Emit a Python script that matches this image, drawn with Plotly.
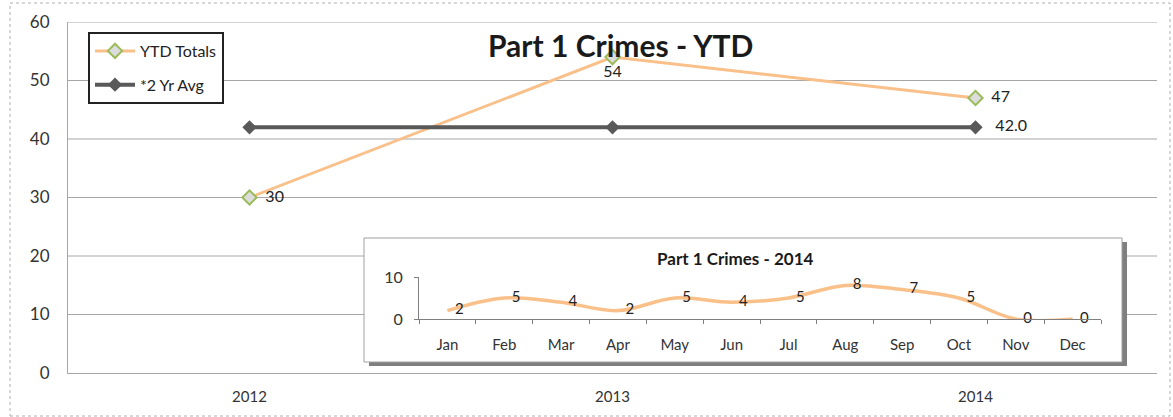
import plotly.graph_objects as go

# ---- data ----
years = ["2012", "2013", "2014"]
ytd_totals = [30, 54, 47]
two_yr_avg = [42.0, 42.0, 42.0]
avg_labels = ["", "", "42.0"]
months = ["Jan", "Feb", "Mar", "Apr", "May", "Jun", "Jul", "Aug", "Sep", "Oct", "Nov", "Dec"]
monthly_2014 = [2, 5, 4, 2, 5, 4, 5, 8, 7, 5, 0, 0]
main_yticks = [0, 10, 20, 30, 40, 50, 60]
inset_yticks = [0, 10]

FONT = "Lato, 'Open Sans', sans-serif"
ORANGE = "#FAC08A"
DARK = "#595959"
EN = "\u2002"
EM = "\u2003"

W, H = 1173, 417
ML, MR, MT, MB = 68, 16, 22, 44
PW, PH = W - ML - MR, H - MT - MB


def px(x):
    return (x - ML) / PW


def py(y):
    return (H - MB - y) / PH


fig = go.Figure()

ytd_pos = ["middle right", "bottom center", "middle right"]
ytd_text = [(EN + str(v)) if p.endswith("right") else str(v) for v, p in zip(ytd_totals, ytd_pos)]
fig.add_trace(go.Scatter(
    x=years, y=ytd_totals, name="YTD Totals", mode="lines+markers+text",
    legendgroup="a",
    line=dict(color=ORANGE, width=3),
    marker=dict(symbol="diamond", size=11, color="#DCDCDC",
                line=dict(color="#9BBB59", width=2)),
    text=ytd_text, textposition=ytd_pos,
    textfont=dict(family=FONT, size=16, color="#222"),
    cliponaxis=False, hoverinfo="skip",
    xaxis="x", yaxis="y",
))
fig.add_trace(go.Scatter(
    x=years, y=two_yr_avg, name="*2 Yr Avg", mode="lines+markers+text",
    legendgroup="b",
    line=dict(color=DARK, width=4),
    marker=dict(symbol="diamond", size=11, color=DARK),
    text=[(EM + t) if t else "" for t in avg_labels], textposition="middle right",
    textfont=dict(family=FONT, size=16, color="#222"),
    cliponaxis=False, hoverinfo="skip",
    xaxis="x", yaxis="y",
))

# inset series
fig.add_trace(go.Scatter(
    x=months, y=monthly_2014, mode="lines+text", showlegend=False,
    line=dict(color=ORANGE, width=3.5, shape="spline", smoothing=1),
    text=[EN + str(v) for v in monthly_2014], textposition="middle right",
    textfont=dict(family=FONT, size=15, color="#222"),
    cliponaxis=False, hoverinfo="skip",
    xaxis="x2", yaxis="y2",
))

shapes = []
# outer frame
shapes.append(dict(type="rect", xref="paper", yref="paper",
                   x0=px(10), x1=px(1170), y0=py(416), y1=py(3),
                   line=dict(color="#B0B0B0", width=1, dash="dot"),
                   fillcolor="rgba(0,0,0,0)", layer="below"))
# main gridlines
for v in main_yticks[1:]:
    shapes.append(dict(type="line", xref="paper", yref="y", x0=0, x1=1, y0=v, y1=v,
                       line=dict(color="#A6A6A6", width=1), layer="below"))
# inset shadow and box
shapes.append(dict(type="rect", xref="paper", yref="paper",
                   x0=px(369), x1=px(1127), y0=py(366), y1=py(242),
                   line=dict(width=0), fillcolor="#7F7F7F", layer="below"))
shapes.append(dict(type="rect", xref="paper", yref="paper",
                   x0=px(364), x1=px(1122), y0=py(362), y1=py(238),
                   line=dict(color="#A0A0A0", width=1), fillcolor="white", layer="below"))

fig.update_layout(
    width=W, height=H,
    margin=dict(l=ML, r=MR, t=MT, b=MB),
    paper_bgcolor="white", plot_bgcolor="rgba(0,0,0,0)",
    font=dict(family=FONT, size=13, color="#333"),
    shapes=shapes,
    showlegend=True,
    legend=dict(x=px(88), y=py(32), xanchor="left", yanchor="top",
                bgcolor="white", bordercolor="#222", borderwidth=2,
                font=dict(family=FONT, size=16, color="#222"),
                tracegroupgap=10, itemwidth=40),
    xaxis=dict(domain=[0, 1], type="category", range=[-0.5, 2.5],
               showgrid=False, showline=True, linecolor="#A6A6A6", linewidth=1,
               ticks="", ticklabelstandoff=10,
               tickfont=dict(family=FONT, size=15, color="#333"),
               anchor="y", fixedrange=True),
    yaxis=dict(domain=[0, 1], range=[0, 60], tickvals=main_yticks,
               showgrid=False, zeroline=False, showline=True, linecolor="#A6A6A6",
               ticks="", ticklabelstandoff=14,
               tickfont=dict(family=FONT, size=17, color="#333"),
               anchor="x", fixedrange=True),
    xaxis2=dict(domain=[px(419), px(1101)], type="category", range=[-0.5, 11.5],
                showgrid=False, showline=True, linecolor="#7F7F7F", linewidth=1,
                ticks="outside", tickson="boundaries", ticklen=4, tickcolor="#7F7F7F",
                ticklabelstandoff=12,
                tickfont=dict(family=FONT, size=15, color="#333"),
                anchor="y2", fixedrange=True),
    yaxis2=dict(domain=[py(319), py(277)], range=[0, 10], tickvals=inset_yticks,
                showgrid=True, gridcolor="#A6A6A6", zeroline=False,
                showline=True, linecolor="#7F7F7F", ticks="outside", ticklen=4,
                tickcolor="#7F7F7F", ticklabelstandoff=8,
                tickfont=dict(family=FONT, size=16, color="#333"),
                anchor="x2", fixedrange=True),
    annotations=[
        dict(text="<b>Part 1 Crimes - YTD</b>", xref="paper", yref="paper",
             x=px(620), y=py(45), xanchor="center", yanchor="middle", showarrow=False,
             font=dict(family=FONT, size=30, color="#1a1a1a")),
        dict(text="<b>Part 1 Crimes - 2014</b>", xref="paper", yref="paper",
             x=px(735), y=py(258), xanchor="center", yanchor="middle", showarrow=False,
             font=dict(family=FONT, size=17, color="#1a1a1a")),
    ],
)

fig.write_html("out.html", config={"displayModeBar": False},
               post_script="document.body.style.margin='0';")
